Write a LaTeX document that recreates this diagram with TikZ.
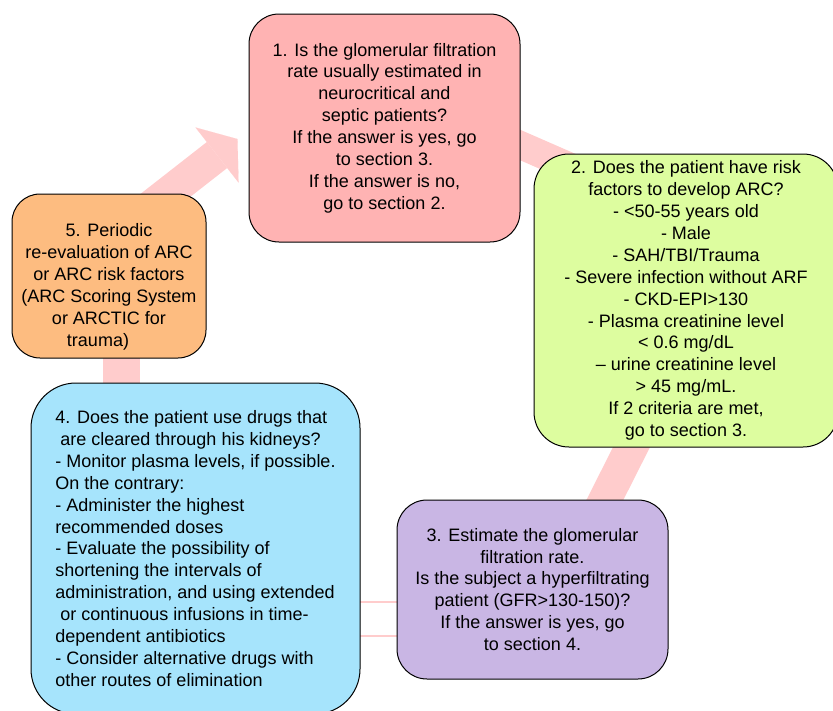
\documentclass[tikz,border=0pt]{standalone}
\usepackage{fontspec}
\setmainfont{Liberation Sans}
\usetikzlibrary{arrows.meta,calc,backgrounds}
\definecolor{boxred}{HTML}{FFB3B3}
\definecolor{boxgreen}{HTML}{DDFD9F}
\definecolor{boxpurple}{HTML}{C9B6E4}
\definecolor{boxblue}{HTML}{A6E4FC}
\definecolor{boxorange}{HTML}{FDBC80}
\definecolor{bandpink}{HTML}{FFCCCC}
\tikzset{
  box/.style={draw=black, line width=1pt, rounded corners=30pt, align=center,
    inner sep=0pt, font=\fontsize{18}{21.9}\selectfont},
  band/.style={draw=bandpink, line width=#1},
  band/.default=32pt
}
\begin{document}
\begin{tikzpicture}[x=1pt,y=-1pt]
\useasboundingbox (0,0) rectangle (833,710);
\node[box, fill=boxred, minimum width=271pt, minimum height=228pt] (b1) at (384.5,128)
 {1. Is the glomerular filtration\\ rate usually estimated in\\ neurocritical and\\ septic patients?\\
  If the answer is yes, go\\ to section 3.\\ If the answer is no,\\ go to section 2.};
\node[box, fill=boxgreen, rounded corners=35pt, minimum width=304pt, minimum height=293pt] (b2) at (686,300.5)
 {2. Does the patient have risk\\ factors to develop ARC?\\ - <50-55 years old\\ - Male\\ - SAH/TBI/Trauma\\
  - Severe infection without ARF\\ - CKD-EPI>130\\ - Plasma creatinine level\\ < 0.6 mg/dL\\
  -- urine creatinine level\\ > 45 mg/mL.\\ If 2 criteria are met,\\ go to section 3.};
\node[box, fill=boxpurple, minimum width=271pt, minimum height=179pt] (b3) at (532.5,589.5)
 {3. Estimate the glomerular\\ filtration rate.\\ Is the subject a hyperfiltrating\\
  patient (GFR>130-150)?\\ If the answer is yes, go\\ to section 4.};
\node[box, fill=boxblue, rounded corners=45pt, align=left, minimum width=329pt, minimum height=331pt] (b4) at (195.5,548.5)
 {4. Does the patient use drugs that\\ \hspace*{5pt}are cleared through his kidneys?\\
  - Monitor plasma levels, if possible.\\ On the contrary:\\ - Administer the highest\\
  recommended doses\\ - Evaluate the possibility of\\ shortening the intervals of\\
  administration, and using extended\\ \hspace*{5pt}or continuous infusions in time-\\
  dependent antibiotics\\ - Consider alternative drugs with\\ other routes of elimination};
\node[box, fill=boxorange, rounded corners=28pt, minimum width=194pt, minimum height=164pt] (b5) at (109,276)
 {\rule{0pt}{35pt}5. Periodic\\ re-evaluation of ARC\\ or ARC risk factors\\ (ARC Scoring System\\ or ARCTIC for\\ trauma)\hspace*{22pt}};
\begin{pgfonlayer}{background}
\draw[band=33pt, -{Triangle[width=70pt,length=26pt,line width=0.1pt]}]
  ($(b5.north)+(14,35)$) -- ($(b1.west)+(-11,11)$);
\draw[band=28pt] ($(b1.east)+(-37,1)$) -- ($(b2.north west)+(68,27)$);
\draw[band=33pt] ($(b2.south)+(-36,-37)$) -- ($(b3.north)+(62.5,20)$);
\draw[draw=bandpink, line width=1.2pt, double=white, double distance=32.8pt]
  ($(b3.west)+(10,29.5)$) -- ($(b4.east)+(-10,70.5)$);
\draw[band=37pt] ($(b4.north)+(-74,17)$) -- ($(b5.south)+(12.5,-18)$);
\end{pgfonlayer}
\end{tikzpicture}
\end{document}
